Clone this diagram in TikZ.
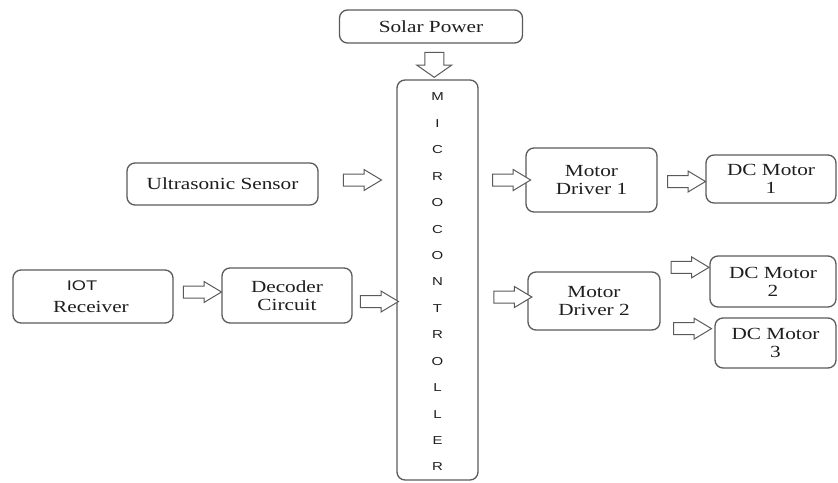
\documentclass[tikz,border=0pt]{standalone}
\usepackage{fontspec}
\setmainfont{Liberation Serif}[FakeStretch=1.25]
\newfontfamily\lsans{Liberation Sans}[FakeStretch=1.3]
\usetikzlibrary{shapes.arrows,positioning}

\definecolor{edgegray}{HTML}{5A5A5A}
\definecolor{inkgray}{HTML}{1E1E1E}

\tikzset{
  blockbox/.style={draw=edgegray,line width=1.3pt,rounded corners=8pt,
    align=center,text=inkgray,inner sep=0pt,
    font=\fontsize{17}{18}\selectfont},
  harrow/.style={single arrow,draw=edgegray,fill=white,line width=1pt,
    text height=0pt,text depth=0pt,inner xsep=0pt,inner ysep=5.5pt,
    minimum height=38pt,single arrow head extend=4.5pt,
    single arrow tip angle=62},
  varrow/.style={single arrow,draw=edgegray,fill=white,line width=1pt,
    text height=0pt,text depth=0pt,inner xsep=0pt,inner ysep=9pt,
    minimum height=25pt,single arrow head extend=8pt,
    single arrow tip angle=110,rotate=-90},
  letter/.style={text=inkgray,font=\lsans\fontsize{11.5}{12}\selectfont}
}

\begin{document}
\begin{tikzpicture}[x=1pt,y=-1pt]
  \useasboundingbox (0,0) rectangle (838,482);

  % boxes
  \node [blockbox,minimum width=183pt,minimum height=33pt] (solar) at (431,26.5) {Solar Power};
  \node [blockbox,minimum width=81pt,minimum height=400pt] (mc) at (437.5,280) {};
  \node [blockbox,minimum width=191pt,minimum height=42pt] (us) at (222.5,184) {Ultrasonic Sensor};
  \node [blockbox,minimum width=160pt,minimum height=53pt] (iot) at (93,296.5)
    {{\lsans\fontsize{14}{18}\selectfont IOT}\hspace*{22pt}\\[4pt]Receiver\hspace*{4pt}};
  \node [blockbox,minimum width=130pt,minimum height=55pt] (dec) at (287,295.5) {Decoder\\Circuit};
  \node [blockbox,minimum width=131pt,minimum height=64pt] (md1) at (591.5,180) {Motor\\Driver 1};
  \node [blockbox,minimum width=132pt,minimum height=58pt] (md2) at (594,301) {Motor\\Driver 2};
  \node [blockbox,minimum width=130pt,minimum height=48pt] (dc1) at (771,179) {DC Motor\\1};
  \node [blockbox,minimum width=126pt,minimum height=51pt] (dc2) at (773,281.5) {DC Motor\\2};
  \node [blockbox,minimum width=121pt,minimum height=50pt] (dc3) at (775.5,343) {DC Motor\\3};

  % letters of the controller
  \foreach \l [count=\i from 0] in {M,I,C,R,O,C,O,N,T,R,O,L,L,E,R}
  \node [letter] (ltr\i) at (437.5,97+26.43*\i) {\l};

  % block arrows
  \path (solar.south) -- (mc.north) node [varrow,midway] (a0) {};
  \path (us.east) -- (us.east -| mc.west) node [harrow,midway,yshift=4pt] (a1) {};
  \path (iot.east) -- (dec.west) node [harrow,midway,yshift=4pt] (a2) {};
  \path (dec.east) -- (dec.east -| mc.west) node [harrow,midway,yshift=-6pt] (a3) {};
  \path (md1.west -| mc.east) -- (md1.west) node [harrow,pos=0.6] (a4) {};
  \path (md1.east) -- (dc1.west) node [harrow,midway,yshift=-2pt] (a5) {};
  \path (md2.west -| mc.east) -- (md2.west) node [harrow,pos=0.6,yshift=4pt] (a6) {};
  \path (md2.north east) -- (md2.north east -| dc2.west) node [harrow,midway,yshift=4pt] (a7) {};
  \path (md2.south east) -- (md2.south east -| dc3.west) node [harrow,midway,yshift=2pt] (a8) {};

\end{tikzpicture}
\end{document}
